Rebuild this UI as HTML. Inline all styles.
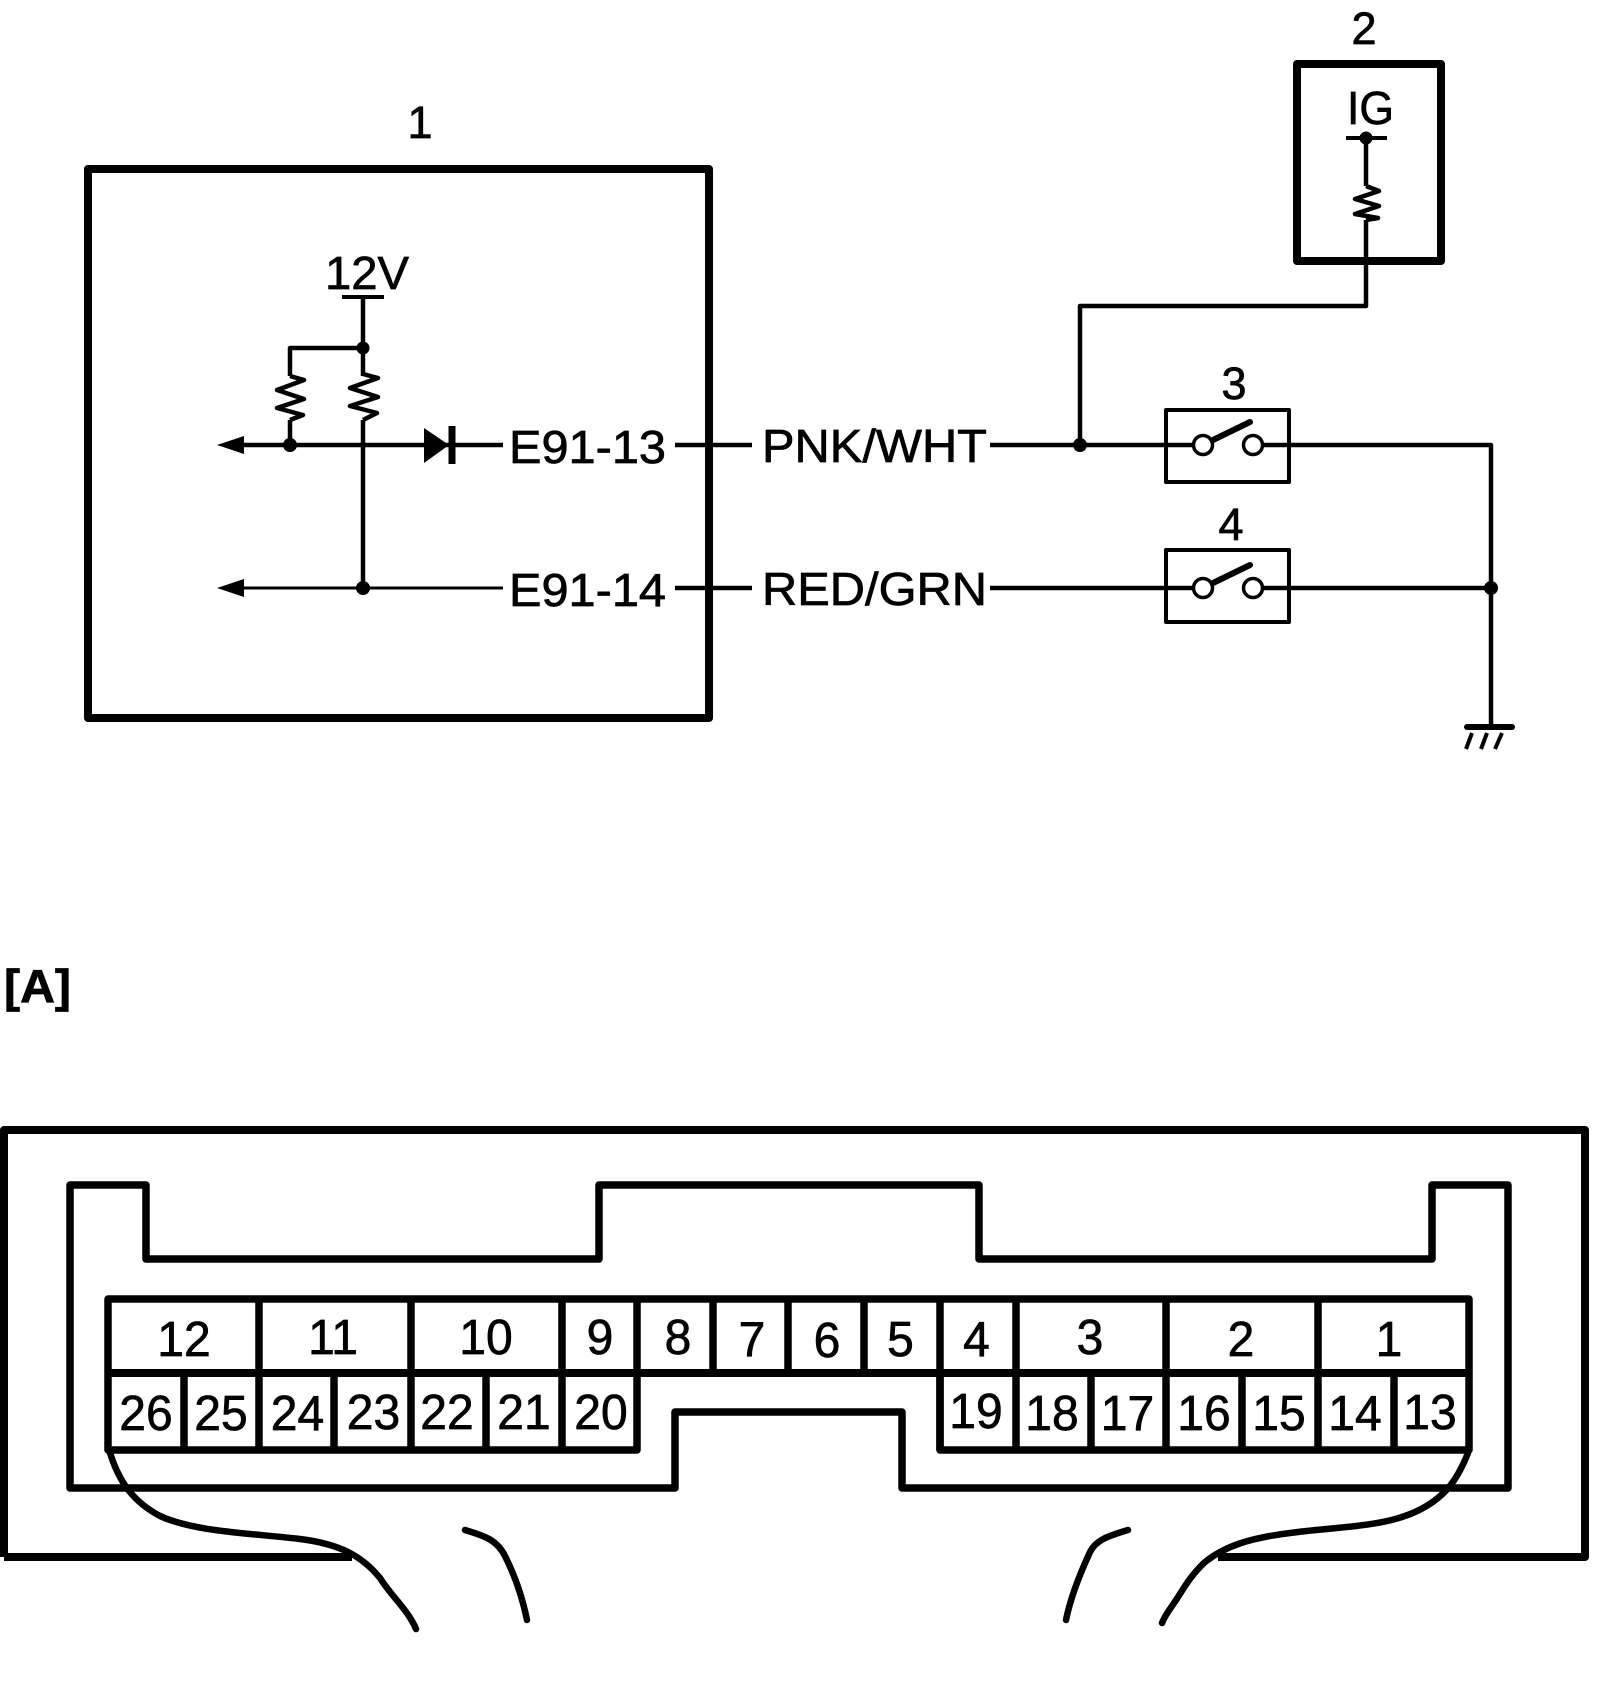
<!DOCTYPE html>
<html><head><meta charset="utf-8"><style>
html,body{margin:0;padding:0;background:#fff}
svg{display:block}
text{font-family:"Liberation Sans",sans-serif;fill:#000;stroke:#000;stroke-width:.7px}
.l{font-size:46px}
.n{font-size:45px;text-anchor:middle}
.d{font-size:49px;text-anchor:middle}
</style></head><body>
<svg width="1600" height="1686" viewBox="0 0 1600 1686" xmlns="http://www.w3.org/2000/svg">
<rect width="1600" height="1686" fill="#fff"/>
<g fill="none" stroke="#000" stroke-linejoin="round" stroke-linecap="butt">
<rect x="88" y="169" width="621" height="549" stroke-width="8"/>
<rect x="1297" y="64" width="144" height="197" stroke-width="8"/>
<path d="M342 297H384M1346 138H1387" stroke-width="4"/>
<path d="M363 297V376M363 348H290V376M290 420V445M363 420V588M1366 138V186M1366 220V306H1080V445" stroke-width="4.5"/>
<path d="M290 376L304 380L277 390L304 399L277 408L303 415L290 420M363 374L378 378L350 388L378 397L350 406L377 413L363 420M1366 186L1379 191L1355 199L1379 206L1355 214L1378 218L1366 220" stroke-width="4.5"/>
<path d="M244 445H503M675 445H752M990 445H1193M1264 445H1491V727M675 588H752M990 588H1193M1264 588H1491" stroke-width="4.5"/>
<path d="M244 588H503" stroke-width="3"/>
<path d="M452 426V464" stroke-width="7"/>
<rect x="1166" y="410" width="123" height="72" stroke-width="4"/>
<rect x="1166" y="550" width="123" height="72" stroke-width="4"/>
<path d="M1213 440L1250 422M1213 583L1250 565" stroke-width="6" stroke-linecap="round"/>
<path d="M1467 727H1512" stroke-width="6" stroke-linecap="round"/>
<path d="M1472 733L1466 749M1487 733L1481 749M1502 733L1495 749" stroke-width="4"/>
<circle cx="1203" cy="445" r="9.5" fill="#fff" stroke-width="3.5"/>
<circle cx="1253" cy="445" r="9.5" fill="#fff" stroke-width="3.5"/>
<circle cx="1203" cy="588" r="9.5" fill="#fff" stroke-width="3.5"/>
<circle cx="1253" cy="588" r="9.5" fill="#fff" stroke-width="3.5"/>
<path d="M4 1557V1130H1585V1557H1218M352 1557H4" stroke-width="8"/>
<path d="M70 1185H146V1259H599V1185H979V1259H1432V1185H1508V1488H902V1412H675V1488H70Z" stroke-width="7.5"/>
<path d="M108 1299H1469V1450H940V1373H637V1450H108Z" stroke-width="7.5"/>
<path d="M108 1373H637M637 1373H940M940 1373H1469" stroke-width="8"/>
<path d="M259 1299V1450M411 1299V1450M562 1299V1450M637 1299V1373M713 1299V1373M788 1299V1373M864 1299V1373M940 1299V1450M1016 1299V1450M1166 1299V1450M1318 1299V1450M184 1373V1450M334 1373V1450M486 1373V1450M1091 1373V1450M1242 1373V1450M1394 1373V1450" stroke-width="7.5"/>
<path d="M110 1453C118 1478 130 1500 160 1516C195 1532 250 1533 300 1539C340 1544 362 1556 380 1578C392 1597 408 1610 416 1629" stroke-width="6.5" stroke-linecap="round"/>
<path d="M465 1530C485 1536 497 1540 505 1556C516 1578 523 1600 527 1620" stroke-width="6.5" stroke-linecap="round"/>
<path d="M1468 1453C1458 1478 1446 1498 1415 1512C1380 1528 1330 1527 1290 1533C1250 1538 1225 1546 1205 1562C1188 1578 1182 1592 1172 1606C1167 1613 1164 1618 1162 1623" stroke-width="6.5" stroke-linecap="round"/>
<path d="M1128 1530C1108 1536 1096 1540 1090 1552C1078 1578 1070 1600 1066 1620" stroke-width="6.5" stroke-linecap="round"/>
</g>
<g fill="#000">
<circle cx="363" cy="348" r="6.5"/><circle cx="290" cy="445" r="7"/><circle cx="363" cy="588" r="7"/>
<circle cx="1080" cy="445" r="7"/><circle cx="1491" cy="588" r="7"/><circle cx="1366" cy="138" r="6.5"/>
<path d="M217 445L244 436V454Z"/><path d="M217 588L244 579V597Z"/>
<path d="M424 428L449 445L424 463Z"/>
</g>
<text class="n" x="420" y="138">1</text>
<text class="n" x="1364" y="44">2</text>
<text class="n" x="1234" y="399">3</text>
<text class="n" x="1231" y="540">4</text>
<text class="l" x="325" y="289" textLength="84" lengthAdjust="spacingAndGlyphs">12V</text>
<text class="l" x="1347" y="124" textLength="47" lengthAdjust="spacingAndGlyphs">IG</text>
<text class="l" x="509" y="463" textLength="157" lengthAdjust="spacingAndGlyphs">E91-13</text>
<text class="l" x="509" y="606" textLength="157" lengthAdjust="spacingAndGlyphs">E91-14</text>
<text class="l" x="762" y="462" textLength="225" lengthAdjust="spacingAndGlyphs">PNK/WHT</text>
<text class="l" x="762" y="605" textLength="225" lengthAdjust="spacingAndGlyphs">RED/GRN</text>
<text class="l" x="4" y="1002" textLength="67" lengthAdjust="spacingAndGlyphs" style="font-weight:700">[A]</text>
<g>
<text class="d" transform="translate(184 1356) scale(.98 1)">12</text>
<text class="d" transform="translate(333 1354) scale(.98 1)">11</text>
<text class="d" transform="translate(486 1354) scale(.98 1)">10</text>
<text class="d" transform="translate(600 1354) scale(.98 1)">9</text>
<text class="d" transform="translate(678 1354) scale(.98 1)">8</text>
<text class="d" transform="translate(752 1356) scale(.98 1)">7</text>
<text class="d" transform="translate(827 1357) scale(.98 1)">6</text>
<text class="d" transform="translate(900.5 1356) scale(.98 1)">5</text>
<text class="d" transform="translate(976.5 1356) scale(.98 1)">4</text>
<text class="d" transform="translate(1090 1354) scale(.98 1)">3</text>
<text class="d" transform="translate(1241 1356) scale(.98 1)">2</text>
<text class="d" transform="translate(1389 1356) scale(.98 1)">1</text>
<text class="d" transform="translate(146 1430) scale(.98 1)">26</text>
<text class="d" transform="translate(221 1430) scale(.98 1)">25</text>
<text class="d" transform="translate(297.5 1430) scale(.98 1)">24</text>
<text class="d" transform="translate(373.5 1429) scale(.98 1)">23</text>
<text class="d" transform="translate(447 1429) scale(.98 1)">22</text>
<text class="d" transform="translate(524 1429) scale(.98 1)">21</text>
<text class="d" transform="translate(601 1429) scale(.98 1)">20</text>
<text class="d" transform="translate(976 1428) scale(.98 1)">19</text>
<text class="d" transform="translate(1052 1430) scale(.98 1)">18</text>
<text class="d" transform="translate(1127.5 1430) scale(.98 1)">17</text>
<text class="d" transform="translate(1204 1430) scale(.98 1)">16</text>
<text class="d" transform="translate(1279 1430) scale(.98 1)">15</text>
<text class="d" transform="translate(1355 1430) scale(.98 1)">14</text>
<text class="d" transform="translate(1430 1429) scale(.98 1)">13</text>
</g>
</svg>
</body></html>
